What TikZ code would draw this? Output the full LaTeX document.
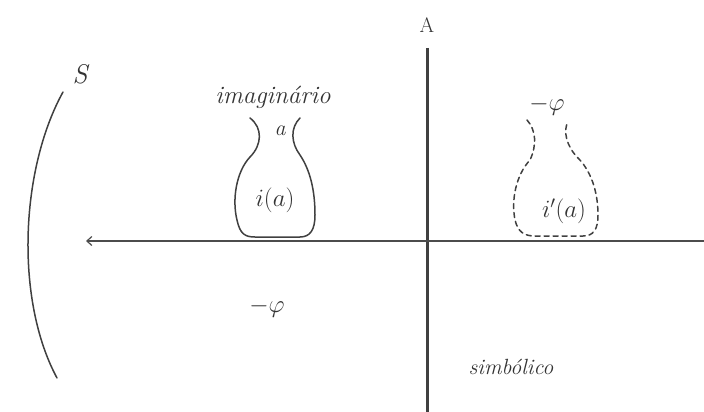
\documentclass[tikz,border=0pt]{standalone}
\usetikzlibrary{arrows.meta}
\begin{document}
\begin{tikzpicture}[x=1pt, y=-1pt, line cap=round,
  every node/.style={text=black!80, inner sep=1pt},
  lbl/.style={font=\fontsize{25}{28}\selectfont\itshape},
  ink/.style={draw=black!75, line width=1.5pt}]
  \useasboundingbox (0,0) rectangle (704,412);
  % axes
  \coordinate (top) at (427,48);
  \coordinate (bot) at (427,412);
  \coordinate (hr) at (704,241);
  \coordinate (hl) at (86,241);
  \node[font=\fontsize{21}{24}\selectfont] (A) at (427,25) {A};
  \draw[draw=black!75, line width=3pt, line cap=butt] (top) -- (bot);
  \draw[draw=black!70, line width=1.2pt, -{Straight Barb[length=5pt, width=9pt]}] (hr) -- (hl);
  % mirror S
  \node[lbl, font=\fontsize{27}{30}\selectfont\itshape] (S) at (80,74) {S};
  \draw[ink] (63,92) .. controls (20,170) and (15,300) .. (57,378);
  % real vase
  \node[lbl] (imag) at (273,97) {imaginário};
  \node[lbl, font=\fontsize{22}{24}\selectfont\itshape] (a) at (280,131) {a};
  \node[lbl, font=\fontsize{27}{30}\selectfont\itshape] (ia) at (275,200) {$i(a)$};
  \draw[ink] (250,118) .. controls (263,128) and (262,145) .. (250,157)
    .. controls (236,172) and (232,200) .. (237,220)
    .. controls (240,234) and (245,237) .. (255,237) -- (300,237)
    .. controls (310,237) and (315,230) .. (315,215)
    .. controls (315,190) and (310,170) .. (300,155)
    .. controls (291,143) and (290,128) .. (300,118);
  % image vase
  \node[lbl, font=\fontsize{27}{30}\selectfont\itshape] (phiA) at (547,106) {$-\varphi$};
  \node[lbl, font=\fontsize{27}{30}\selectfont\itshape] (ib) at (564,211) {$i'(a)$};
  \draw[ink, dashed, dash pattern=on 5pt off 4pt] (527,120) .. controls (536,130) and (537,145) .. (530,160)
    .. controls (516,175) and (511,200) .. (515,220)
    .. controls (518,232) and (524,236) .. (535,236) -- (583,236)
    .. controls (593,236) and (598,230) .. (598,215)
    .. controls (598,190) and (590,170) .. (578,158)
    .. controls (566,146) and (563,130) .. (568,122);
  % lower labels
  \node[lbl, font=\fontsize{27}{30}\selectfont\itshape] (phiB) at (267,308) {$-\varphi$};
  \node[lbl, font=\fontsize{22}{25}\selectfont\itshape] (simb) at (511,367) {simbólico};
\end{tikzpicture}
\end{document}
